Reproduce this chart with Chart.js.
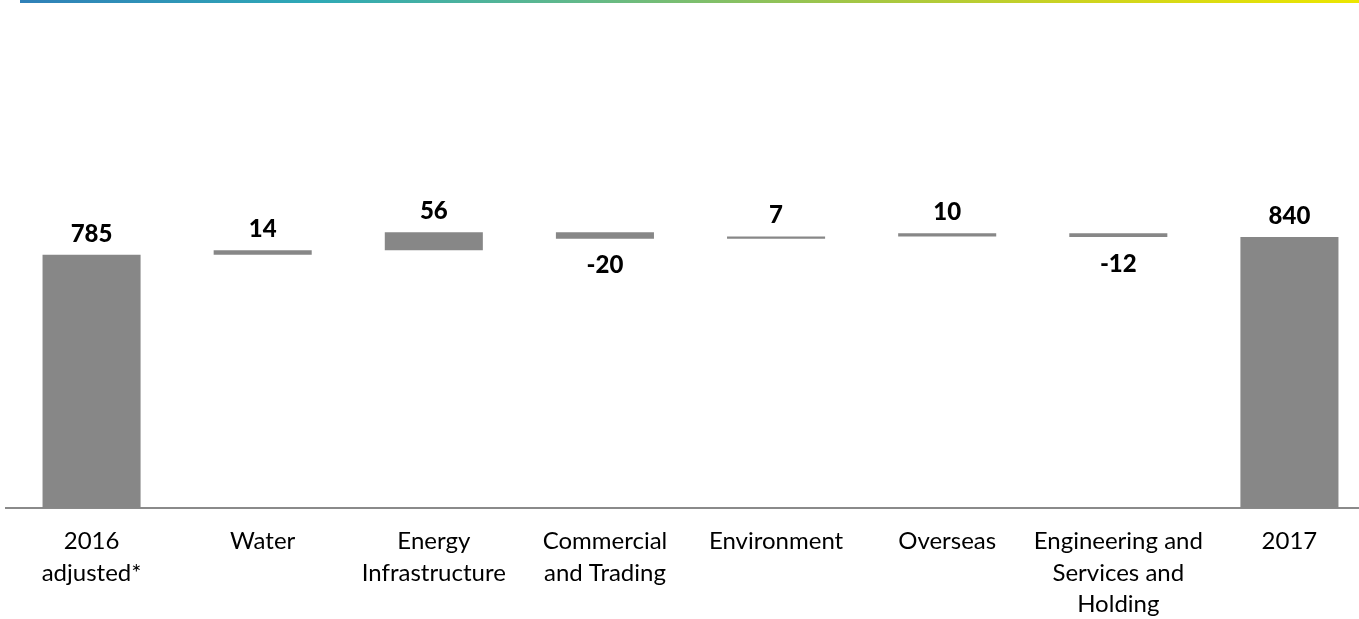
<!DOCTYPE html>
<html>
<head>
<meta charset="utf-8">
<script src="https://cdn.jsdelivr.net/npm/chart.js@4/dist/chart.umd.min.js"></script>
<style>
  html, body { margin: 0; padding: 0; background: #fff; overflow: hidden; }
  #band {
    position: absolute; left: 20px; top: 0; width: 1339px; height: 3px;
    background: linear-gradient(to right, #2f80b8 0%, #2ea9b6 22%, #62b98a 42%, #a2c646 62%, #cfd41e 80%, #ece600 100%);
  }
  #wrap { position: absolute; left: 0; top: 0; }
</style>
</head>
<body>
<div id="band"></div>
<div id="wrap"><canvas id="chart" width="1375" height="619"></canvas></div>
<script>
// --------------------
// Data
// --------------------
const categories = [
  ['2016', 'adjusted*'],
  'Water',
  ['Energy', 'Infrastructure'],
  ['Commercial', 'and Trading'],
  'Environment',
  'Overseas',
  ['Engineering and', 'Services and', 'Holding'],
  '2017'
];
const values = [785, 14, 56, -20, 7, 10, -12, 840];
const isTotal = [true, false, false, false, false, false, false, true];

// --------------------
// Build floating bars [start, end]
// --------------------
let running = 0;
const ranges = values.map((v, i) => {
  if (isTotal[i]) {
    running = v;
    return [0, v];
  }
  const start = running;
  running += v;
  return [start, running];
});

const barColor = '#878787';
const valueFont = '900 24px Lato, "Open Sans", sans-serif';

// --------------------
// Value labels above / below each bar
// --------------------
const valueLabels = {
  id: 'valueLabels',
  afterDatasetsDraw(chart) {
    const { ctx } = chart;
    const meta = chart.getDatasetMeta(0);
    ctx.save();
    ctx.font = valueFont;
    ctx.fillStyle = '#000';
    ctx.textAlign = 'center';
    meta.data.forEach((bar, i) => {
      const top = Math.min(bar.y, bar.base);
      const bottom = Math.max(bar.y, bar.base);
      if (values[i] < 0) {
        ctx.textBaseline = 'top';
        ctx.fillText(String(values[i]), bar.x, bottom + 15);
      } else {
        ctx.textBaseline = 'alphabetic';
        ctx.fillText(String(values[i]), bar.x, top - 13);
      }
    });
    ctx.restore();
  }
};

new Chart(document.getElementById('chart'), {
  type: 'bar',
  data: {
    labels: categories,
    datasets: [{
      data: ranges,
      backgroundColor: barColor,
      borderWidth: 0,
      barPercentage: 0.573,
      categoryPercentage: 1
    }]
  },
  options: {
    responsive: false,
    animation: false,
    devicePixelRatio: 1,
    layout: { padding: { top: 50, left: 6, right: 0, bottom: 0 } },
    plugins: {
      legend: { display: false },
      tooltip: { enabled: false }
    },
    scales: {
      x: {
        grid: { display: false },
        border: { display: true, color: '#8a8a8a', width: 2 },
        ticks: {
          color: '#000',
          font: { family: 'Lato, "Open Sans", sans-serif', size: 24, lineHeight: 1.3 },
          padding: 10,
          maxRotation: 0,
          autoSkip: false
        },
        afterFit(scale) { scale.height = 111; }
      },
      y: {
        display: false,
        min: 0,
        max: 1420
      }
    }
  },
  plugins: [valueLabels]
});
</script>
</body>
</html>
